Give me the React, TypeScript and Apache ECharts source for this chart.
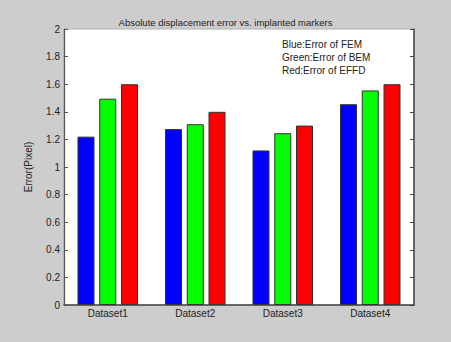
import React, { useEffect, useRef } from "react";
import * as echarts from "echarts";

const categories = ["Dataset1", "Dataset2", "Dataset3", "Dataset4"];
const femErrors = [1.22, 1.275, 1.12, 1.455];
const bemErrors = [1.495, 1.31, 1.245, 1.555];
const effdErrors = [1.6, 1.4, 1.3, 1.6];
const legendLines = ["Blue:Error of FEM", "Green:Error of BEM", "Red:Error of EFFD"];
const title = "Absolute displacement error vs. implanted markers";

export default function App() {
  const ref = useRef<HTMLDivElement>(null);
  useEffect(() => {
    if (!ref.current) return;
    const chart = echarts.init(ref.current, null, { renderer: "svg" });
    const font = "'Liberation Sans', Arial, sans-serif";
    const barStyle = (c: string) => ({ color: c, borderColor: "#333", borderWidth: 1 });
    chart.setOption({
      animation: false,
      backgroundColor: "#cdcdcd",
      textStyle: { fontFamily: font },
      title: {
        text: title,
        left: "center",
        top: 12,
        textStyle: { fontSize: 9.5, fontWeight: "normal", color: "#222", fontFamily: font },
      },
      grid: {
        left: 64,
        right: 37,
        top: 29,
        bottom: 37,
        show: true,
        backgroundColor: "#ffffff",
        borderColor: "#b0b0b0",
        borderWidth: 1,
      },
      xAxis: {
        type: "category",
        data: categories,
        axisLine: { lineStyle: { color: "#444", width: 1.5 } },
        axisTick: { show: false },
        axisLabel: { color: "#222", fontSize: 10, margin: 3, fontFamily: font },
      },
      yAxis: [
        {
          type: "value",
          min: 0,
          max: 2,
          interval: 0.2,
          name: "Error(Pixel)",
          nameLocation: "middle",
          nameGap: 31,
          nameTextStyle: { color: "#222", fontSize: 10, fontFamily: font },
          axisLine: { show: true, lineStyle: { color: "#555", width: 1.2 } },
          axisTick: { show: true, inside: true, length: 4, lineStyle: { color: "#555" } },
          axisLabel: { color: "#222", fontSize: 10, margin: 4, fontFamily: font },
          splitLine: { show: false },
        },
        {
          type: "value",
          position: "right",
          min: 0,
          max: 2,
          interval: 0.2,
          axisLine: { show: true, lineStyle: { color: "#444", width: 1.5 } },
          axisTick: { show: true, inside: true, length: 4, lineStyle: { color: "#444" } },
          axisLabel: { show: false },
          splitLine: { show: false },
        },
      ],
      series: [
        { name: "FEM", type: "bar", data: femErrors, barWidth: 17, barGap: "28%", itemStyle: barStyle("#0000ff") },
        { name: "BEM", type: "bar", data: bemErrors, barWidth: 17, barGap: "28%", itemStyle: barStyle("#00ff00") },
        { name: "EFFD", type: "bar", data: effdErrors, barWidth: 17, barGap: "28%", itemStyle: barStyle("#ff0000") },
      ],
      graphic: legendLines.map((t, i) => ({
        type: "text",
        left: 282,
        top: 39 + i * 13,
        style: { text: t, fill: "#222", font: `10px ${font}` },
      })),
    });
    return () => chart.dispose();
  }, []);
  return (
    <div
      ref={ref}
      style={{ position: "fixed", left: 0, top: 0, width: 451, height: 342 }}
    />
  );
}
